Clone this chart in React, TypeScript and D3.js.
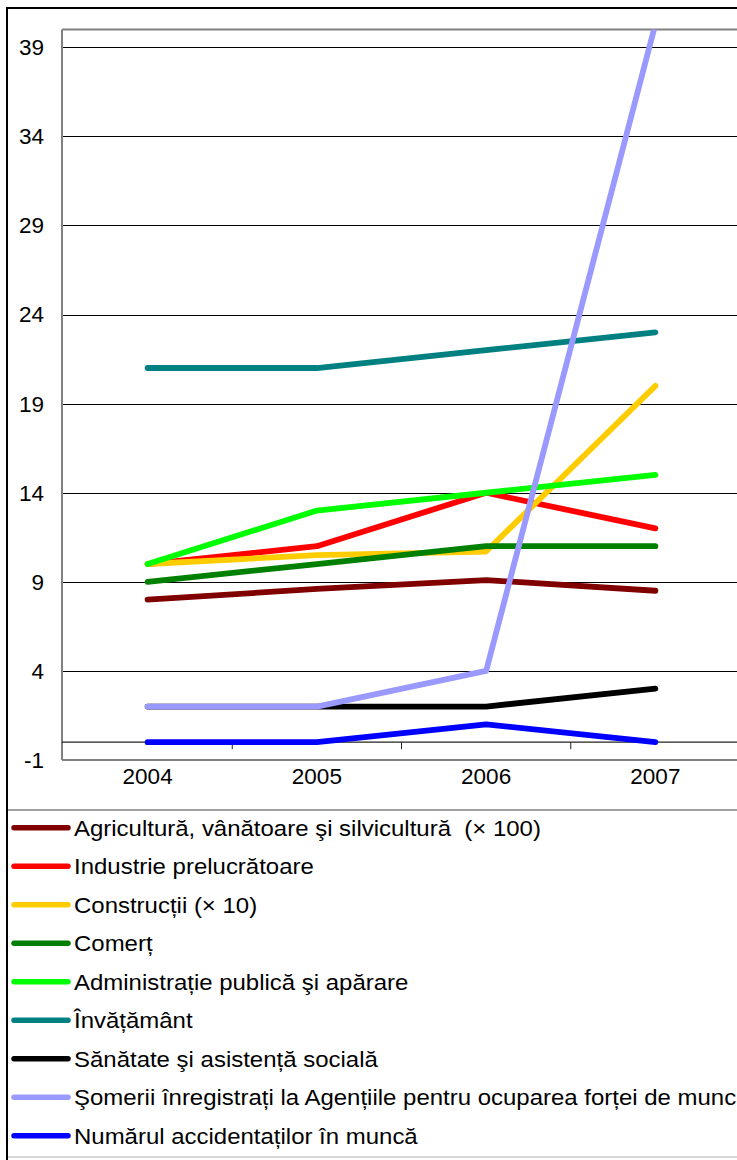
import React from "react";
import * as d3 from "d3";

const years = ["2004", "2005", "2006", "2007"];
const yTicks = [-1, 4, 9, 14, 19, 24, 29, 34, 39];

const seriesNames = [
  "Agricultură, vânătoare şi silvicultură  (× 100)",
  "Industrie prelucrătoare",
  "Construcții (× 10)",
  "Comerț",
  "Administrație publică şi apărare",
  "Învățământ",
  "Sănătate şi asistență socială",
  "Şomerii înregistrați la Agențiile pentru ocuparea forței de muncă",
  "Numărul accidentaților în muncă",
];

const seriesColors = [
  "#800000",
  "#FF0000",
  "#FFCC00",
  "#008000",
  "#00FF00",
  "#008080",
  "#000000",
  "#9999FF",
  "#0000FF",
];

const agricultura = [8.0, 8.6, 9.1, 8.5];
const industrie = [10, 11, 14, 12];
const constructii = [10, 10.5, 10.7, 20];
const comert = [9, 10, 11, 11];
const administratie = [10, 13, 14, 15];
const invatamant = [21, 21, 22, 23];
const sanatate = [2, 2, 2, 3];
const someri = [2, 2, 4, 40.3];
const accidentati = [0, 0, 1, 0];

const seriesValues = [
  agricultura,
  industrie,
  constructii,
  comert,
  administratie,
  invatamant,
  sanatate,
  someri,
  accidentati,
];

const W = 737;
const H = 1160;
const FONT = "'Liberation Sans', Arial, sans-serif";

export default function App() {
  const plotLeft = 62;
  const plotTop = 29.5;
  const plotBottom = 760;
  const plotRight = 745;

  const x = d3.scaleBand<string>().domain(years).range([63, 740]);
  const y = d3.scaleLinear().domain([-1, 40]).range([plotBottom, plotTop]);
  const cx = (yr: string) => (x(yr) as number) + x.bandwidth() / 2;

  const line = d3
    .line<number>()
    .x((_, i) => cx(years[i]))
    .y((v) => y(v));

  const boundaries = years.slice(1).map((yr) => x(yr) as number);

  const legendTop = 810;
  const legendRow0 = 827.7;
  const legendStep = 38.5;

  return (
    <svg
      width={W}
      height={H}
      style={{ position: "absolute", left: 0, top: 0, background: "#fff" }}
      fontFamily={FONT}
    >
      <defs>
        <clipPath id="plotClip">
          <rect x={plotLeft} y={plotTop} width={plotRight - plotLeft} height={plotBottom - plotTop} />
        </clipPath>
      </defs>
      <rect x={0} y={0} width={W} height={H} fill="#fff" />

      {/* gridlines */}
      {yTicks
        .filter((t) => t > -1)
        .map((t) => (
          <line
            key={"g" + t}
            x1={plotLeft}
            x2={W}
            y1={Math.round(y(t)) + 0.5}
            y2={Math.round(y(t)) + 0.5}
            stroke="#000"
            strokeWidth={1}
          />
        ))}

      {/* plot area frame */}
      <line x1={plotLeft} x2={W} y1={plotTop} y2={plotTop} stroke="#808080" strokeWidth={2} />
      <line x1={plotLeft} x2={plotLeft} y1={plotTop} y2={plotBottom} stroke="#808080" strokeWidth={2} />
      <line x1={plotLeft} x2={W} y1={plotBottom} y2={plotBottom} stroke="#808080" strokeWidth={2} />

      {/* category axis at zero */}
      <line x1={plotLeft} x2={W} y1={y(0)} y2={y(0)} stroke="#222" strokeWidth={1.3} />
      {boundaries.map((b, i) => (
        <line key={"t" + i} x1={b} x2={b} y1={y(0)} y2={y(0) + 7} stroke="#222" strokeWidth={1} />
      ))}

      {/* y tick labels */}
      {yTicks.map((t) => (
        <text
          key={"yl" + t}
          x={44}
          y={y(t)}
          dy="0.35em"
          textAnchor="end"
          fontSize={22.5}
          fill="#000"
        >
          {t}
        </text>
      ))}

      {/* x labels */}
      {years.map((yr) => (
        <text key={"xl" + yr} x={cx(yr)} y={784} textAnchor="middle" fontSize={22.5} fill="#000">
          {yr}
        </text>
      ))}

      {/* series lines */}
      <g clipPath="url(#plotClip)">
        {seriesValues.map((vals, i) => (
          <path
            key={"s" + i}
            d={line(vals) || ""}
            fill="none"
            stroke={seriesColors[i]}
            strokeWidth={5.8}
            strokeLinecap="round"
            strokeLinejoin="round"
          />
        ))}
      </g>

      {/* legend */}
      <line x1={7} x2={W} y1={legendTop} y2={legendTop} stroke="#808080" strokeWidth={1.5} />
      <line x1={7} x2={W} y1={1157} y2={1157} stroke="#c8c8c8" strokeWidth={1.5} />
      {seriesNames.map((name, i) => {
        const ry = legendRow0 + i * legendStep;
        return (
          <g key={"lg" + i}>
            <line
              x1={14}
              x2={68}
              y1={ry}
              y2={ry}
              stroke={seriesColors[i]}
              strokeWidth={5.5}
              strokeLinecap="round"
            />
            <text
              transform={`translate(74,${ry}) scale(1.09,1)`}
              dy="0.36em"
              fontSize={22}
              fill="#000"
              style={{ whiteSpace: "pre" }}
            >
              {name}
            </text>
          </g>
        );
      })}

      {/* outer chart frame */}
      <line x1={7} x2={W} y1={8} y2={8} stroke="#000" strokeWidth={2} />
      <line x1={7} x2={7} y1={7} y2={H} stroke="#000" strokeWidth={2} />
    </svg>
  );
}
